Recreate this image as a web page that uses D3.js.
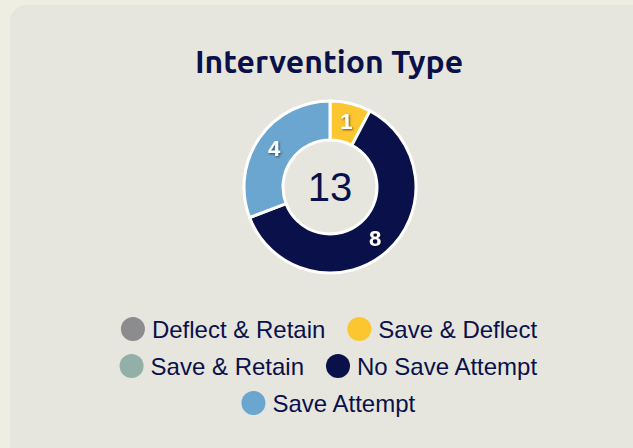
<!DOCTYPE html>
<html>
<head>
<meta charset="utf-8">
<script src="https://cdn.jsdelivr.net/npm/d3@7"></script>
<style>
  html, body { margin: 0; padding: 0; background: #eeeee3; }
  body { width: 633px; height: 448px; overflow: hidden; position: relative; }
  .card { position: absolute; left: 10px; top: 5px; width: 660px; height: 480px;
          background: #e6e6de; border-radius: 16px; }
  svg { position: absolute; left: 0; top: 0; }
</style>
</head>
<body>
<div class="card"></div>
<svg id="chart" width="633" height="448"></svg>
<script>
const categories = ["Deflect & Retain", "Save & Deflect", "Save & Retain", "No Save Attempt", "Save Attempt"];
const values = [0, 1, 0, 8, 4];
const colors = ["#8c8c8e", "#fcc630", "#92b0a8", "#0a104a", "#6aa6cf"];
const title = "Intervention Type";

const svg = d3.select("#chart");
const navy = "#0a104a";

svg.append("text")
  .attr("x", 329).attr("y", 73)
  .attr("text-anchor", "middle")
  .attr("font-family", "Ubuntu, Lato, 'Open Sans', sans-serif")
  .attr("font-weight", 700)
  .attr("font-size", 32)
  .attr("fill", navy)
  .text(title);

const cx = 330, cy = 187, outerR = 86, innerR = 47;
const data = categories.map((c, i) => ({ name: c, value: values[i], color: colors[i] }));
const pie = d3.pie().sort(null).value(d => d.value);
const arcs = pie(data).filter(d => d.data.value > 0);
const arc = d3.arc().innerRadius(innerR).outerRadius(outerR);
const labelR = 68;
const labelArc = d3.arc().innerRadius(labelR).outerRadius(labelR);

const defs = svg.append("defs");
const f = defs.append("filter").attr("id", "shadow").attr("x", "-50%").attr("y", "-50%").attr("width", "200%").attr("height", "200%");
f.append("feDropShadow").attr("dx", 1).attr("dy", 1).attr("stdDeviation", 1).attr("flood-color", "#000").attr("flood-opacity", 0.6);

const g = svg.append("g").attr("transform", `translate(${cx},${cy})`);
g.selectAll("path.slice").data(arcs).join("path")
  .attr("class", "slice")
  .attr("d", arc)
  .attr("fill", d => d.data.color)
  .attr("stroke", "#fff")
  .attr("stroke-width", 3)
  .attr("stroke-linejoin", "round");

g.selectAll("text.val").data(arcs).join("text")
  .attr("class", "val")
  .attr("transform", d => `translate(${labelArc.centroid(d)})`)
  .attr("text-anchor", "middle")
  .attr("dy", "0.36em")
  .attr("font-family", "Arial, 'Liberation Sans', sans-serif")
  .attr("font-weight", 700)
  .attr("font-size", 22)
  .attr("fill", "#fff")
  .attr("filter", "url(#shadow)")
  .text(d => d.data.value);

g.append("text")
  .attr("text-anchor", "middle")
  .attr("dy", "0.36em")
  .attr("font-family", "Arial, 'Liberation Sans', sans-serif")
  .attr("font-size", 40)
  .attr("fill", navy)
  .text(d3.sum(values));

// legend: centered, wrapping rows
const legendFont = "24px Arial, 'Liberation Sans', sans-serif";
const ctx = document.createElement("canvas").getContext("2d");
ctx.font = legendFont;
const dotR = 12, dotGap = 7, itemGap = 22, maxW = 440, rowH = 37, firstRowY = 329, legendCx = 329;
const items = data.map(d => ({ ...d, w: dotR * 2 + dotGap + ctx.measureText(d.name).width }));
const rows = [];
let cur = [], curW = 0;
items.forEach(it => {
  const add = cur.length ? itemGap + it.w : it.w;
  if (cur.length && curW + add > maxW) { rows.push({ items: cur, w: curW }); cur = [it]; curW = it.w; }
  else { cur.push(it); curW += add; }
});
if (cur.length) rows.push({ items: cur, w: curW });

const lg = svg.append("g");
rows.forEach((row, ri) => {
  let x = legendCx - row.w / 2;
  const y = firstRowY + ri * rowH;
  row.items.forEach(it => {
    lg.append("circle").attr("cx", x + dotR).attr("cy", y).attr("r", dotR).attr("fill", it.color);
    lg.append("text").attr("x", x + dotR * 2 + dotGap).attr("y", y).attr("dy", "0.36em")
      .style("font", legendFont).attr("fill", navy).text(it.name);
    x += it.w + itemGap;
  });
});
</script>
</body>
</html>
